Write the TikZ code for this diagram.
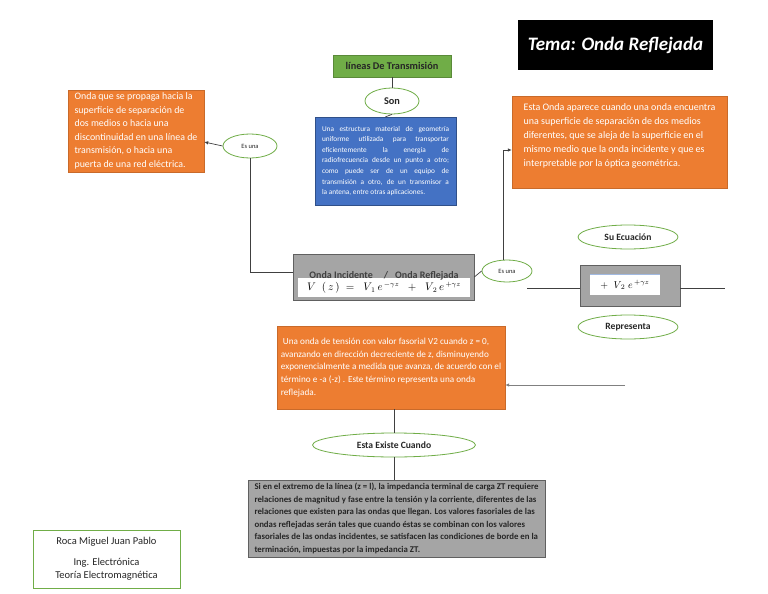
\documentclass[tikz,border=0pt]{standalone}
\usepackage{fontspec}
\setmainfont{Carlito}
\usetikzlibrary{shapes.geometric,arrows.meta,calc}
\definecolor{orng}{HTML}{ED7D31}
\definecolor{blu}{HTML}{4472C4}
\definecolor{grn}{HTML}{70AD47}
\definecolor{gry}{HTML}{A5A5A5}
\definecolor{dk}{HTML}{404040}
\begin{document}
\begin{tikzpicture}[x=1pt,y=-1pt,
 box/.style={rectangle,inner sep=0pt,anchor=center},
 obox/.style={box,fill=orng,draw=orng!85!black,line width=0.4pt,text=white,align=left},
 gbox/.style={box,fill=gry,draw=gray!75!black,line width=0.6pt},
 wbox/.style={box,fill=white,draw=none},
 oval/.style={ellipse,draw=grn,fill=white,line width=0.8pt,inner sep=0pt,font=\bfseries\fontsize{9.6}{10}\selectfont,text=black!85},
 conn/.style={draw=dk,line width=0.7pt},
 arr/.style={conn,-{Latex[length=4pt,width=3.5pt]}}
]
\useasboundingbox (0,0) rectangle (768,594);
\fill[white] (0,0) rectangle (768,594);

% title
\node[box,fill=black,minimum width=195,minimum height=50,text=white,font=\bfseries\itshape\fontsize{19}{22}\selectfont] (title) at (615.5,45) {Tema: Onda Reflejada};

% top green box, Son, blue box
\node[box,fill=grn,draw=grn!80!black,minimum width=118,minimum height=22,text=black!85,font=\bfseries\fontsize{10.3}{11}\selectfont] (lineas) at (392,66) {líneas De Transmisión};
\node[oval,minimum width=54,minimum height=26,font=\bfseries\fontsize{10.3}{11}\selectfont] (son) at (392,101) {Son};
\node[box,fill=blu,draw=blu!70!black,minimum width=141,minimum height=88,text=white,text width=127,align=justify,font=\fontsize{7.3}{10.6}\selectfont] (blue) at (385.5,161) {Una estructura material de geometría\linebreak uniforme utilizada para transportar\linebreak eficientemente la energía de\linebreak radiofrecuencia desde un punto a otro;\linebreak como puede ser de un equipo de\linebreak transmisión a otro, de un transmisor a\linebreak la antena, entre otras aplicaciones.};

% left orange box
\node[obox,minimum width=136,minimum height=82,font=\fontsize{9.9}{13.5}\selectfont] (orange1) at (136,131) {Onda que se propaga hacia la\\superficie de separación de\\dos medios o hacia una\\discontinuidad en una línea de\\transmisión, o hacia una\\puerta de una red eléctrica.};
\node[oval,minimum width=54,minimum height=24,font=\fontsize{6.5}{7}\selectfont] (esuna1) at (250,146) {Es una};

% right orange box
\node[obox,minimum width=215,minimum height=92,font=\fontsize{10}{14}\selectfont] (orange2) at (619.5,142) {Esta Onda aparece cuando una onda encuentra\\una superficie de separación de dos medios\\diferentes, que se aleja de la superficie en el\\mismo medio que la onda incidente y que es\\interpretable por la óptica geométrica.\\~};

% central equation box
\node[gbox,minimum width=181,minimum height=46] (eq) at (383.5,277) {};
\node[wbox,minimum width=172,minimum height=19] (eqw) at (384,287.5) {};
\node[inner sep=0pt,font=\fontsize{10.5}{11}\selectfont] (eqm) at (384,288) {$V\;\;\bigl(\,z\,\bigr)\;=\;\;V_{\,1}\,e^{\,-\gamma z}\;\;+\;\;V_{\,2}\,e^{\,+\gamma z}$};
\node[inner sep=0pt,text=dk,font=\bfseries\fontsize{10}{10}\selectfont] (eqh) at (384,276) {Onda Incidente\hspace{11pt}/\hspace{7pt}Onda Reflejada};
\node[oval,minimum width=50,minimum height=22,font=\fontsize{6.5}{7}\selectfont] (esuna2) at (507,271) {Es una};

% right equation box
\node[oval,minimum width=100,minimum height=24] (ecuacion) at (628,237) {Su Ecuación};
\node[gbox,minimum width=100,minimum height=41] (eq2) at (630,285.5) {};
\node[wbox,minimum width=70,minimum height=21] (eq2w) at (625,284.5) {};
\draw[blu!50,line width=0.6pt] (eq2w.north west) -- (eq2w.north east);
\node[inner sep=0pt,font=\fontsize{10}{11}\selectfont] (eq2m) at (625,285) {$+\;\;V_{\,2}\;e^{\,+\gamma z}$};
\node[oval,minimum width=100,minimum height=24] (representa) at (628,327) {Representa};

% lower orange box
\node[obox,minimum width=228,minimum height=83,font=\fontsize{9.2}{12.8}\selectfont] (orange3) at (391,367.5) {\ Una onda de tensión con valor fasorial V2 cuando z = 0,\\avanzando en dirección decreciente de z, disminuyendo\\exponencialmente a medida que avanza, de acuerdo con el\\término e -a (-z) . Este término representa una onda\\reflejada.};

\node[oval,minimum width=163,minimum height=24] (existe) at (394,445) {Esta Existe Cuando};

% bottom gray box
\node[gbox,minimum width=297,minimum height=77,align=left,text=black!85,font=\bfseries\fontsize{8.8}{12.5}\selectfont] (gray3) at (396.5,518.5) {Si en el extremo de la línea (z = l), la impedancia terminal de carga ZT requiere\\relaciones de magnitud y fase entre la tensión y la corriente, diferentes de las\\relaciones que existen para las ondas que llegan. Los valores fasoriales de las\\ondas reflejadas serán tales que cuando éstas se combinan con los valores\\fasoriales de las ondas incidentes, se satisfacen las condiciones de borde en la\\terminación, impuestas por la impedancia ZT.};

% author box
\node[box,draw=grn,line width=0.8pt,fill=white,minimum width=147,minimum height=58,align=center,text=black!85,font=\fontsize{10.5}{13}\selectfont] (author) at (106.5,559) {Roca Miguel Juan Pablo\\[8pt]Ing. Electrónica\\Teoría Electromagnética};

% connectors
\draw[conn] (lineas.south) -- (son.north);
\draw[conn] (son.south) -- (blue.north);
\draw[arr] (esuna1.west) -- ($(orange1.east)+(0,11)$);
\draw[conn] (esuna1.south) |- ($(eq.west)+(0,-5)$);
\draw[conn] (eq.east) -- (esuna2.west);
\draw[arr] (esuna2.110) |- ($(orange2.west)+(0,8)$);
\coordinate (lstart) at (527,288);
\coordinate (lend) at (725,288);
\draw[conn] (lstart) -- (eq2.west |- lstart);
\draw[conn] (eq2.east |- lend) -- (lend);
\coordinate (astart) at (625,385);
\draw[arr,draw=gray] (astart) -- (orange3.east |- astart);
\draw[conn] (existe.north) -- (existe.north |- orange3.south);
\draw[conn] (existe.south) -- (existe.south |- gray3.north);
\end{tikzpicture}
\end{document}
